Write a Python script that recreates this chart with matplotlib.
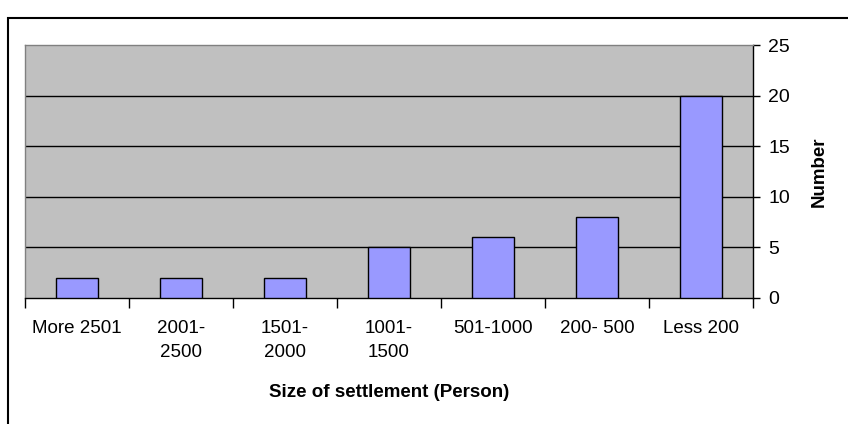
import numpy as np
import matplotlib.pyplot as plt
from matplotlib.patches import Rectangle

categories = ['More 2501', '2001-\n2500', '1501-\n2000', '1001-\n1500',
              '501-1000', '200- 500', 'Less 200']
counts = [2, 2, 2, 5, 6, 8, 20]
yticks = [0, 5, 10, 15, 20, 25]

plt.rcParams['font.family'] = ['Liberation Sans', 'DejaVu Sans']

fig = plt.figure(figsize=(8.48, 4.24), dpi=100)
ax = fig.add_axes([25/848, 1 - 298/424, (753 - 25)/848, (298 - 45)/424])

# outer chart frame (clipped at right and bottom like the original)
fig.patches.append(Rectangle((8/848, -0.1), 1.2, 1 - 18/424 + 0.1,
                             transform=fig.transFigure, fill=False,
                             edgecolor='black', linewidth=1.5, clip_on=False))

x = np.arange(len(categories))
ax.set_facecolor('#C0C0C0')
ax.bar(x, counts, width=0.41, color='#9999FF', edgecolor='black', linewidth=1, zorder=3)

ax.set_xlim(-0.5, len(categories) - 0.5)
ax.set_ylim(0, 25)

# horizontal gridlines
for v in yticks[1:-1]:
    ax.axhline(v, color='black', linewidth=1, zorder=1)

ax.yaxis.tick_right()
ax.yaxis.set_label_position('right')
ax.set_yticks(yticks)
ax.tick_params(axis='y', direction='out', length=5, width=1, pad=6, labelsize=14)

ax.set_xticks(x)
ax.set_xticklabels(categories, fontsize=13.5, linespacing=1.6)
ax.set_xticks(np.arange(-0.5, len(categories)), minor=True)
ax.tick_params(axis='x', which='major', length=0, pad=15.5)
ax.tick_params(axis='x', which='minor', length=7, width=1, direction='out')

for s in ['left', 'top']:
    ax.spines[s].set_color('#808080')
    ax.spines[s].set_linewidth(1)
for s in ['right', 'bottom']:
    ax.spines[s].set_color('black')
    ax.spines[s].set_linewidth(1)

ax.set_xlabel('Size of settlement (Person)', fontsize=13.5, fontweight='bold', labelpad=16)
ax.set_ylabel('Number', fontsize=13.5, fontweight='bold', labelpad=15)

fig.savefig('out.png', dpi=100)
